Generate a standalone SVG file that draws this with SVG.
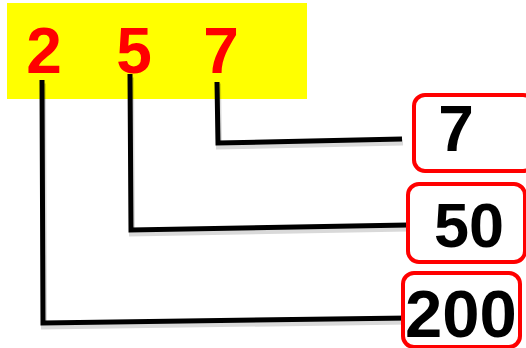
<svg xmlns="http://www.w3.org/2000/svg" width="526" height="348" viewBox="0 0 526 348">
<defs>
<style>
.dig{font-family:"Liberation Sans",Arial,sans-serif;font-weight:bold;font-size:64px;fill:#ff0000;text-anchor:middle}
.val{font-family:"Liberation Sans",Arial,sans-serif;font-weight:bold;fill:#000;text-anchor:middle}
.box{fill:#fff;stroke:#ff0000;stroke-width:4}
.wire{fill:none;stroke:#000;stroke-width:5;stroke-linejoin:miter}
.shadow{fill:none;stroke:#000;stroke-opacity:0.15;stroke-width:6}
</style>
</defs>
<g id="number">
<rect x="7" y="3" width="300" height="96" fill="#ffff00"/>
<text class="dig" x="44" y="73">2</text>
<text class="dig" x="134" y="73">5</text>
<text class="dig" x="221" y="73">7</text>
</g>
<g id="connectors">
<polyline class="shadow" points="42,82 43,325 409,320" transform="translate(1,1.5)"/>
<polyline class="shadow" points="130,76 131,232 408,227" transform="translate(1,1.5)"/>
<polyline class="shadow" points="217,82 218,145 402,141" transform="translate(1,1.5)"/>
<polyline class="wire" points="42,80 43,323 409,318"/>
<polyline class="wire" points="130,74 131,230 408,225"/>
<polyline class="wire" points="217,82 218,143 402,139"/>
</g>
<g id="box7">
<rect class="box" x="414" y="95" width="120" height="76" rx="11"/>
<text class="val" x="456" y="151" font-size="64">7</text>
</g>
<g id="box50">
<rect class="box" x="408" y="184" width="117" height="78" rx="11"/>
<text class="val" x="469" y="247" font-size="63">50</text>
</g>
<g id="box200">
<rect class="box" x="403" y="273" width="117" height="74" rx="11"/>
<text class="val" x="461" y="337" font-size="67">200</text>
</g>
</svg>
